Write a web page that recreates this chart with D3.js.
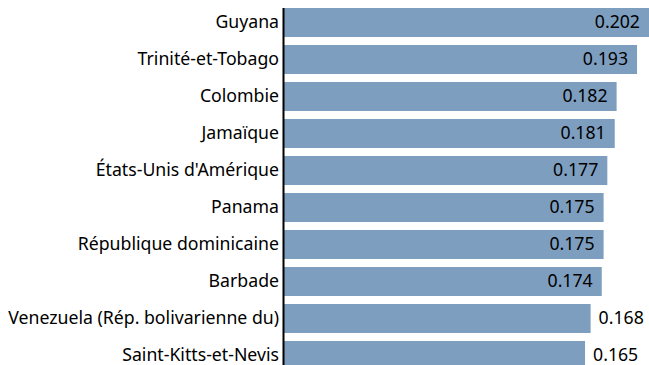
<!DOCTYPE html>
<html>
<head>
<meta charset="utf-8">
<script src="https://cdn.jsdelivr.net/npm/d3@7"></script>
<style>
  html, body { margin: 0; padding: 0; background: #fff; }
  svg { display: block; }
  text { font-family: "Noto Sans", "Open Sans", sans-serif; fill: #000; }
</style>
</head>
<body>
<svg id="chart" width="649" height="365"></svg>
<script>
// Pays et valeurs de l'indicateur
const countries = [
  "Guyana",
  "Trinité-et-Tobago",
  "Colombie",
  "Jamaïque",
  "États-Unis d'Amérique",
  "Panama",
  "République dominicaine",
  "Barbade",
  "Venezuela (Rép. bolivarienne du)",
  "Saint-Kitts-et-Nevis"
];
const values = [0.202, 0.193, 0.182, 0.181, 0.177, 0.175, 0.175, 0.174, 0.168, 0.165];
const valueLabels = ["0.202", "0.193", "0.182", "0.181", "0.177", "0.175", "0.175", "0.174", "0.168", "0.165"];

const W = 649, H = 365;
const axisX = 284;
const fontSize = 17.7;
const barColor = "#7e9ebf";

const svg = d3.select("#chart");

const x = d3.scaleLinear().domain([0.0029, 0.21]).range([axisX, 668.6]);
const y = d3.scaleBand().domain(countries).range([8, 370]).paddingInner(0.216).paddingOuter(0);

const rows = countries.map((c, i) => ({ country: c, value: values[i], label: valueLabels[i] }));

// Barres
svg.append("g").selectAll("rect")
  .data(rows)
  .join("rect")
  .attr("x", x(x.domain()[0]))
  .attr("y", d => y(d.country))
  .attr("width", d => x(d.value) - x(x.domain()[0]))
  .attr("height", y.bandwidth())
  .attr("fill", barColor);

// Noms des pays, alignés à droite contre l'axe
svg.append("g").selectAll("text")
  .data(rows)
  .join("text")
  .attr("x", axisX - 5)
  .attr("y", d => y(d.country) + y.bandwidth() / 2)
  .attr("dy", "0.33em")
  .attr("text-anchor", "end")
  .style("font-size", fontSize + "px")
  .text(d => d.country);

// Valeurs : dans la barre quand elle est assez longue, sinon à sa suite
const insideMin = 0.17;
svg.append("g").selectAll("text")
  .data(rows)
  .join("text")
  .attr("x", d => d.value >= insideMin ? Math.min(x(d.value), W) - 9 : x(d.value) + 8)
  .attr("y", d => y(d.country) + y.bandwidth() / 2)
  .attr("dy", "0.33em")
  .attr("text-anchor", d => d.value >= insideMin ? "end" : "start")
  .style("font-size", fontSize + "px")
  .text(d => d.label);

// Axe vertical
svg.append("line")
  .attr("x1", axisX - 0.5).attr("x2", axisX - 0.5)
  .attr("y1", 8).attr("y2", H)
  .attr("stroke", "#000")
  .attr("stroke-width", 2);
</script>
</body>
</html>
